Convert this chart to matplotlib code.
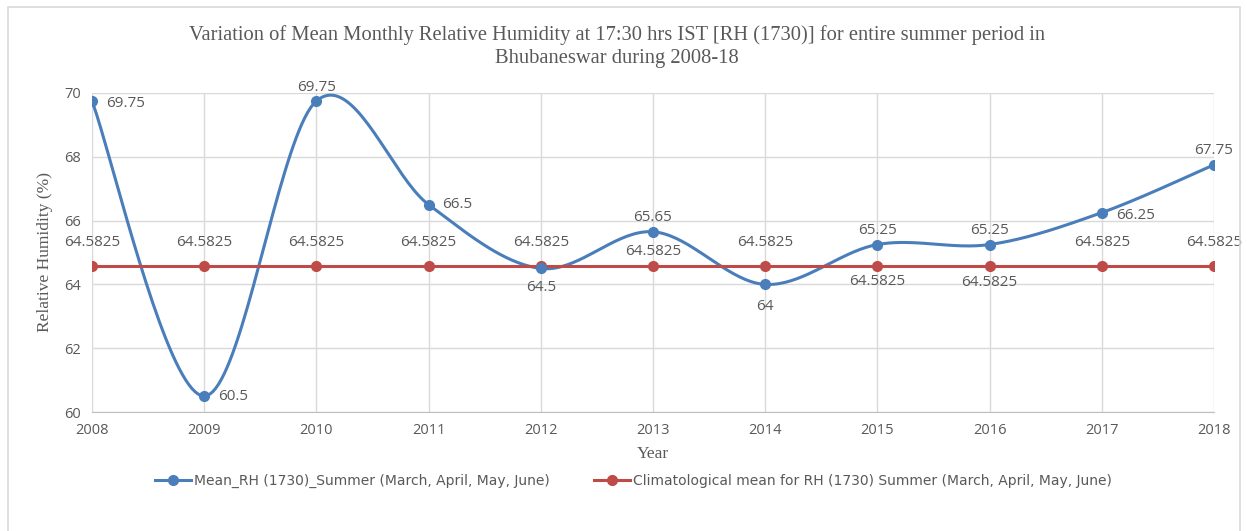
import matplotlib
matplotlib.use("Agg")
import numpy as np
import matplotlib.pyplot as plt
from matplotlib.patches import Rectangle

years = [2008, 2009, 2010, 2011, 2012, 2013, 2014, 2015, 2016, 2017, 2018]
rh_mean = [69.75, 60.5, 69.75, 66.5, 64.5, 65.65, 64.0, 65.25, 65.25, 66.25, 67.75]
rh_clim = [64.5825] * 11
rh_labels = ["69.75", "60.5", "69.75", "66.5", "64.5", "65.65", "64", "65.25", "65.25", "66.25", "67.75"]
clim_labels = ["64.5825"] * 11

# label offsets in points (dx, dy)
rh_off = [(10, -2), (10, 0), (0, 10), (10, 0), (0, -14), (0, 10), (0, -16), (0, 10), (0, 10), (10, -2), (0, 10)]
clim_off = [(0, 17), (0, 17), (0, 17), (0, 17), (0, 17), (0, 10), (0, 17), (0, -11), (0, -12), (0, 17), (0, 17)]

blue = "#4a7ebb"
red = "#be4b48"
gray_txt = "#595959"


def excel_smooth(x, y, n=40):
    # bezier smoothing in the style of spreadsheet "smoothed line"
    x = np.asarray(x, float)
    y = np.asarray(y, float)
    px = np.concatenate([[x[0]], x, [x[-1]]])
    py = np.concatenate([[y[0]], y, [y[-1]]])
    xs, ys = [], []
    t = np.linspace(0, 1, n)
    for i in range(len(x) - 1):
        p0 = np.array([px[i + 1], py[i + 1]])
        p3 = np.array([px[i + 2], py[i + 2]])
        c1 = p0 + (p3 - np.array([px[i], py[i]])) / 6
        c2 = p3 - (np.array([px[i + 3], py[i + 3]]) - p0) / 6
        b = ((1 - t) ** 3)[:, None] * p0 + (3 * (1 - t) ** 2 * t)[:, None] * c1 \
            + (3 * (1 - t) * t ** 2)[:, None] * c2 + (t ** 3)[:, None] * p3
        xs.extend(b[:, 0])
        ys.extend(b[:, 1])
    return xs, ys


fig = plt.figure(figsize=(12.47, 5.31), dpi=100)
fig.patches.append(Rectangle((8 / 1247, -0.05), 1232 / 1247, 1.037, transform=fig.transFigure,
                             fill=False, edgecolor="#d9d9d9", lw=1.2))
ax = fig.add_axes([92 / 1247, 119 / 531, 1122 / 1247, 319 / 531])

sx, sy = excel_smooth(years, rh_mean)
ax.plot(sx, sy, color=blue, lw=2.2, zorder=3)
ax.plot(years, rh_mean, "o", color=blue, ms=7, zorder=4)
ax.plot(years, rh_clim, color=red, lw=2.2, marker="o", ms=7, zorder=3)
# legend handles
ax.plot([], [], color=blue, lw=2.2, marker="o", ms=7, label="Mean_RH (1730)_Summer (March, April, May, June)")
ax.plot([], [], color=red, lw=2.2, marker="o", ms=7, label="Climatological mean for RH (1730) Summer (March, April, May, June)")

for x, y, s, (dx, dy) in zip(years, rh_mean, rh_labels, rh_off):
    ha = "left" if dx > 0 else "center"
    ax.annotate(s, (x, y), xytext=(dx, dy), textcoords="offset points", ha=ha, va="center",
                fontsize=11, color=gray_txt, family="Open Sans", zorder=5)
for x, y, s, (dx, dy) in zip(years, rh_clim, clim_labels, clim_off):
    ax.annotate(s, (x, y), xytext=(dx, dy), textcoords="offset points", ha="center", va="center",
                fontsize=11, color=gray_txt, family="Open Sans", zorder=5)

ax.set_xlim(2008, 2018)
ax.set_ylim(60, 70)
ax.set_xticks(years)
ax.set_yticks(range(60, 71, 2))
ax.grid(True, color="#d9d9d9", lw=1)
ax.set_axisbelow(True)
for s in ["top", "right", "left"]:
    ax.spines[s].set_visible(False)
ax.spines["bottom"].set_color("#bfbfbf")
ax.tick_params(length=0, labelsize=10.5, labelcolor=gray_txt, pad=8)
for lab in ax.get_xticklabels() + ax.get_yticklabels():
    lab.set_family("Open Sans")

ax.set_xlabel("Year", family="Liberation Serif", fontsize=12.5, color=gray_txt, labelpad=6)
ax.set_ylabel("Relative Humidity (%)", family="Liberation Serif", fontsize=12.5, color=gray_txt, labelpad=8)

fig.text(0.495, 0.912, "Variation of Mean Monthly Relative Humidity at 17:30 hrs IST [RH (1730)] for entire summer period in\nBhubaneswar during 2008-18",
         ha="center", va="center", family="Liberation Serif", fontsize=14.8, color=gray_txt, linespacing=1.3)

leg = fig.legend(loc="center", bbox_to_anchor=(0.508, 0.094), ncol=2, frameon=False,
                 prop={"family": ["Liberation Sans Narrow", "DejaVu Sans"], "size": 10}, columnspacing=3.2,
                 handlelength=2.6, handletextpad=0.2)
for t in leg.get_texts():
    t.set_color(gray_txt)

fig.savefig("out.png", dpi=100)
